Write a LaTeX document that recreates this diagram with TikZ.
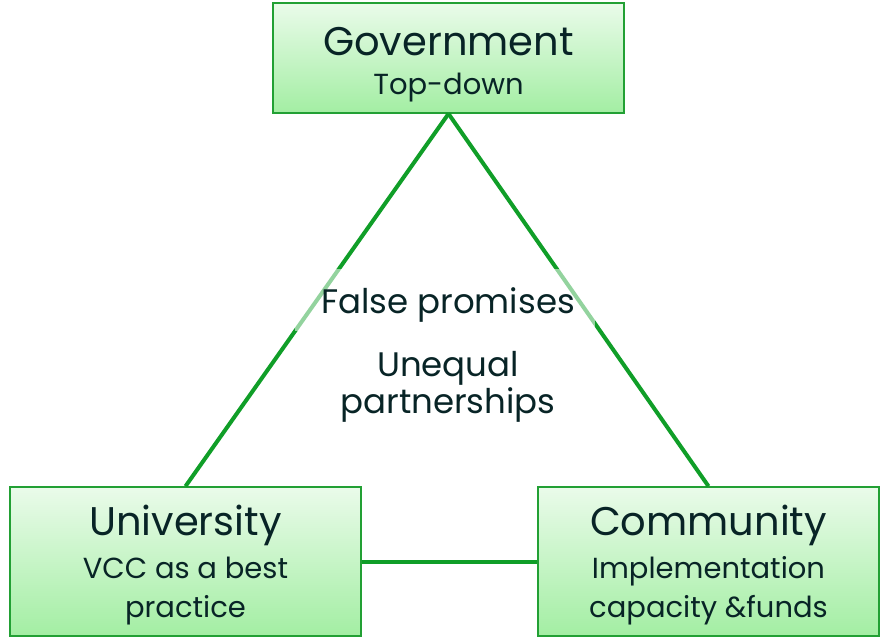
\documentclass[tikz,border=0pt]{standalone}
\usepackage{fontspec}
\setmainfont{Poppins}
\usetikzlibrary{positioning}
\definecolor{boxtop}{RGB}{234,251,234}
\definecolor{boxbot}{RGB}{163,238,163}
\definecolor{boxline}{RGB}{34,160,52}
\definecolor{linkgreen}{RGB}{16,158,40}
\definecolor{inkcol}{RGB}{8,36,38}
\newcommand{\titlesize}{\fontsize{40}{44}\selectfont}
\newcommand{\subsize}{\fontsize{29}{39}\selectfont}
\newcommand{\midsize}{\fontsize{34}{37}\selectfont}
\tikzset{
  actor/.style = {shape=rectangle, draw=boxline, line width=1.5pt,
                  align=center, text=inkcol, font=\subsize,
                  top color=boxtop, bottom color=boxbot,
                  minimum width=351pt, inner sep=0pt},
  link/.style  = {draw=linkgreen, line width=4pt},
  issue/.style = {align=center, text=inkcol, font=\midsize}
}

\begin{document}
\begin{tikzpicture}[x=1pt,y=-1pt]
\useasboundingbox (0,0) rectangle (881,638);
\node [actor, minimum height=110pt] (gov) at (448.5,58) {\rule{0pt}{42pt}{\titlesize Government}\\[0pt]Top-down};
\node [actor, minimum height=149pt] (uni) at (185.5,561.5) {\rule{0pt}{37pt}{\titlesize University}\\[4pt]VCC as a best\\practice};
\node [actor, minimum width=341pt, minimum height=149pt] (com) at (708.5,561.5) {\rule{0pt}{37pt}{\titlesize Community}\\[4pt]Implementation\\capacity \&funds};
% triangle of relations
\draw [link] (gov.south) -- (uni.north);
\draw [link] (gov.south) -- (com.north);
\draw [link] (uni.east) -- (com.west);
\node [fill=white, fill opacity=0.55, minimum width=300pt, minimum height=62pt] (veil) at (445,300) {};
\node [issue] (promise) at (448,305) {False promises};
\node [issue] (unequal) at (448,387) {Unequal\\partnerships};
\end{tikzpicture}
\end{document}
